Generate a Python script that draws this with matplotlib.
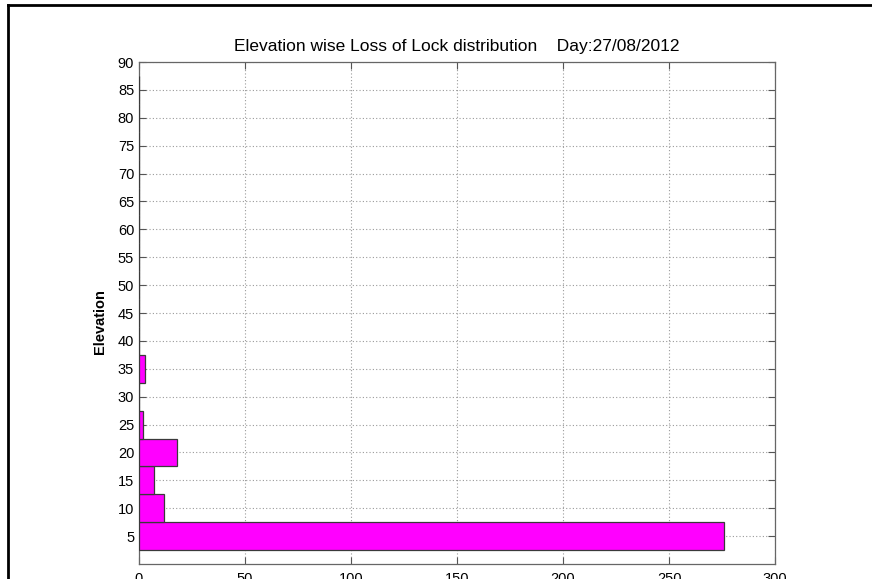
import matplotlib
matplotlib.use("Agg")
import matplotlib.pyplot as plt
from matplotlib.lines import Line2D

# elevation bins (deg, bin centres) and loss-of-lock counts per bin
elevation = [5, 10, 15, 20, 25, 30, 35, 40, 45, 50, 55, 60, 65, 70, 75, 80, 85]
counts = [276, 12, 7, 18, 2, 0, 3, 0, 0, 0, 0, 0, 0, 0, 0, 0, 0]
x_ticks = [0, 50, 100, 150, 200, 250, 300]
y_ticks = list(range(5, 95, 5))

plt.rcParams["font.family"] = ["Liberation Sans", "DejaVu Sans"]

fig = plt.figure(figsize=(8.72, 5.79), dpi=100)
ax = fig.add_axes([0.1594, 0.0259, 0.7294, 0.867])

ax.barh(elevation, counts, height=5, color="#ff00ff", edgecolor="#3a3a3a",
        linewidth=0.9, zorder=3)

ax.set_xlim(0, 300)
ax.set_ylim(0, 90)
ax.set_xticks(x_ticks)
ax.set_yticks(y_ticks)
ax.tick_params(direction="in", top=True, right=True, labelsize=10.5,
               length=5, color="#555555")
ax.tick_params(axis="x", pad=6)
ax.grid(True, linestyle=(0, (1, 2)), color="#9a9a9a", linewidth=0.8, zorder=0)
for s in ax.spines.values():
    s.set_color("#666666")
    s.set_linewidth(0.9)

ax.set_ylabel("Elevation", fontsize=10.5, fontweight="bold")
ax.yaxis.set_label_coords(-0.05, 0.482)
ax.set_title("Elevation wise Loss of Lock distribution    Day:27/08/2012",
             fontsize=12.5, pad=8)

# frame around the figure (top and left edges)
fig.add_artist(Line2D([0.0092, 1.0], [0.9914, 0.9914], color="black",
                      linewidth=2, transform=fig.transFigure))
fig.add_artist(Line2D([0.0092, 0.0092], [0.0, 0.9914], color="black",
                      linewidth=2, transform=fig.transFigure))

fig.savefig("out.png", dpi=100)
